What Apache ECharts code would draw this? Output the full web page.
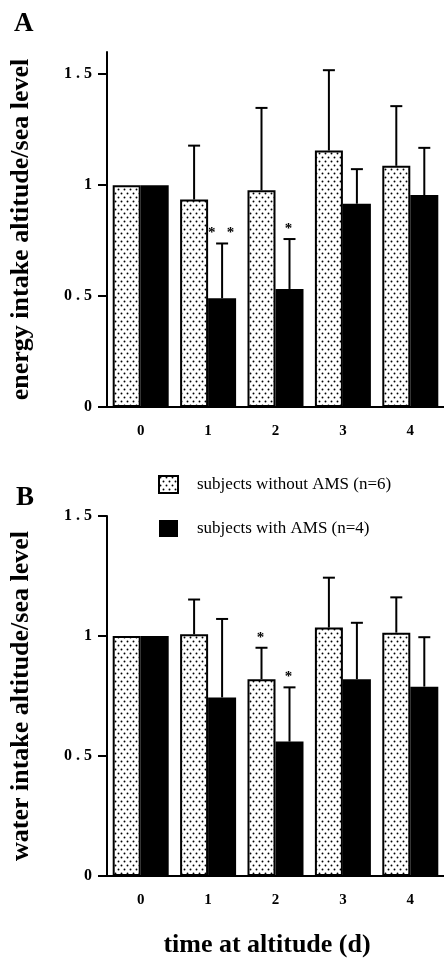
<!DOCTYPE html>
<html><head><meta charset="utf-8">
<script src="https://cdn.jsdelivr.net/npm/echarts@6/dist/echarts.min.js"></script>
<style>html,body{margin:0;padding:0;background:#fff}#c{width:444px;height:962px}</style>
</head><body><div id="c"></div>
<script>
// ---- data ----
const categories = ['0', '1', '2', '3', '4'];
const yTickValues = [0, 0.5, 1, 1.5];
const yTickLabels = ['0', '0 . 5', '1', '1 . 5'];
const seriesNames = ['subjects without AMS (n=6)', 'subjects with AMS (n=4)'];

const energyNoAMS   = [1.00, 0.935, 0.977, 1.156, 1.087];
const energyNoAMSsd = [0,    0.243, 0.371, 0.362, 0.269];
const energyNoAMSsig = ['', '', '', '', ''];
const energyAMS     = [1.00, 0.490, 0.532, 0.916, 0.955];
const energyAMSsd   = [0,    0.247, 0.225, 0.156, 0.213];
const energyAMSsig  = ['', '*   *', '*', '', ''];

const waterNoAMS    = [1.00, 1.007, 0.820, 1.035, 1.014];
const waterNoAMSsd  = [0,    0.145, 0.131, 0.208, 0.147];
const waterNoAMSsig = ['', '', '*', '', ''];
const waterAMS      = [1.00, 0.744, 0.560, 0.820, 0.789];
const waterAMSsd    = [0,    0.327, 0.226, 0.235, 0.206];
const waterAMSsig   = ['', '', '*', '', ''];

// ---- styles ----
const SERIF = 'Liberation Serif';
const BAR_W = 28;

function makeDots() {
  const c = document.createElement('canvas');
  c.width = 6; c.height = 8;
  const g = c.getContext('2d');
  g.fillStyle = '#fff'; g.fillRect(0, 0, 6, 8);
  g.fillStyle = '#000';
  g.beginPath(); g.arc(1.5, 1.5, 0.95, 0, Math.PI * 2); g.fill();
  g.beginPath(); g.arc(4.5, 5.5, 0.95, 0, Math.PI * 2); g.fill();
  return c;
}
const dotPattern = { image: makeDots(), repeat: 'repeat' };

function yAxisCfg(gi, max, name) {
  return {
    type: 'value', gridIndex: gi, min: 0, max: max,
    splitLine: { show: false },
    axisLine: { show: true, lineStyle: { color: '#000', width: 2 } },
    axisTick: { show: true, length: 9, customValues: yTickValues, lineStyle: { color: '#000', width: 2 } },
    axisLabel: {
      customValues: yTickValues, margin: 15,
      formatter: v => { const k = yTickValues.indexOf(v); return k >= 0 ? yTickLabels[k] : ''; },
      fontFamily: SERIF, fontWeight: 'bold', fontSize: 16, color: '#000'
    },
    name: name, nameLocation: 'middle', nameGap: 73,
    nameTextStyle: { fontFamily: SERIF, fontWeight: 'bold', fontSize: 26, color: '#000' }
  };
}
function xAxisCfg(gi, name) {
  const a = {
    type: 'category', gridIndex: gi, data: categories,
    axisLine: { show: true, lineStyle: { color: '#000', width: 2 } },
    axisTick: { show: false },
    axisLabel: { margin: 17, fontFamily: SERIF, fontWeight: 'bold', fontSize: 15, color: '#000' }
  };
  if (name) {
    a.name = name; a.nameLocation = 'middle'; a.nameGap = 56;
    a.nameTextStyle = { fontFamily: SERIF, fontWeight: 'bold', fontSize: 26, color: '#000', padding: [0, 17, 0, 0] };
  }
  return a;
}
function barSeries(gi, idx, data) {
  return {
    type: 'bar', name: seriesNames[idx], xAxisIndex: gi, yAxisIndex: gi,
    data: data, barWidth: BAR_W, barGap: '0%',
    itemStyle: idx === 0 ? { color: dotPattern, borderColor: '#000', borderWidth: 2 } : { color: '#000' },
    z: 2
  };
}
function errSeries(gi, side, mean, sd, sig) {
  return {
    type: 'custom', xAxisIndex: gi, yAxisIndex: gi, z: 5, silent: true,
    data: categories.map((c, i) => [i, mean[i], sd[i]]),
    encode: { x: 0, y: 1 },
    renderItem: function (params, api) {
      const i = api.value(0), m = api.value(1), s = api.value(2);
      const base = api.coord([i, m]);
      const top = api.coord([i, m + s]);
      const x = base[0] + side * BAR_W / 2;
      const ch = [];
      if (s > 0) {
        ch.push({ type: 'line', shape: { x1: x, y1: base[1], x2: x, y2: top[1] }, style: { stroke: '#000', lineWidth: 2 } });
        ch.push({ type: 'line', shape: { x1: x - 6, y1: top[1], x2: x + 6, y2: top[1] }, style: { stroke: '#000', lineWidth: 2 } });
      }
      const star = sig[params.dataIndex];
      if (star) {
        ch.push({ type: 'text', x: x - 1, y: top[1] - 10,
          style: { text: star, fill: '#000', font: 'bold 15px ' + SERIF, align: 'center', verticalAlign: 'middle' } });
      }
      return { type: 'group', children: ch };
    }
  };
}

const chart = echarts.init(document.getElementById('c'), null, { renderer: 'canvas' });
chart.setOption({
  animation: false,
  backgroundColor: '#fff',
  title: [
    { text: 'A', left: 14, top: 11, padding: 0, textStyle: { fontFamily: SERIF, fontWeight: 'bold', fontSize: 27, color: '#000' } },
    { text: 'B', left: 16, top: 485, padding: 0, textStyle: { fontFamily: SERIF, fontWeight: 'bold', fontSize: 27, color: '#000' } }
  ],
  legend: {
    orient: 'vertical', left: 158, top: 475, padding: 0,
    itemWidth: 19, itemHeight: 17, itemGap: 26, selectedMode: false,
    data: [{ name: seriesNames[0], icon: 'rect' }, { name: seriesNames[1], icon: 'rect' }],
    textStyle: { fontFamily: SERIF, fontSize: 17, color: '#000', padding: [0, 0, 0, 14] }
  },
  grid: [
    { left: 107, top: 52, width: 345, height: 355 },
    { left: 107, top: 516, width: 345, height: 360 }
  ],
  xAxis: [xAxisCfg(0), xAxisCfg(1, 'time at altitude (d)')],
  yAxis: [yAxisCfg(0, 1.6, 'energy intake altitude/sea level'), yAxisCfg(1, 1.5, 'water intake altitude/sea level')],
  series: [
    barSeries(0, 0, energyNoAMS), barSeries(0, 1, energyAMS),
    barSeries(1, 0, waterNoAMS), barSeries(1, 1, waterAMS),
    errSeries(0, -1, energyNoAMS, energyNoAMSsd, energyNoAMSsig),
    errSeries(0, 1, energyAMS, energyAMSsd, energyAMSsig),
    errSeries(1, -1, waterNoAMS, waterNoAMSsd, waterNoAMSsig),
    errSeries(1, 1, waterAMS, waterAMSsd, waterAMSsig)
  ]
});
</script></body></html>
